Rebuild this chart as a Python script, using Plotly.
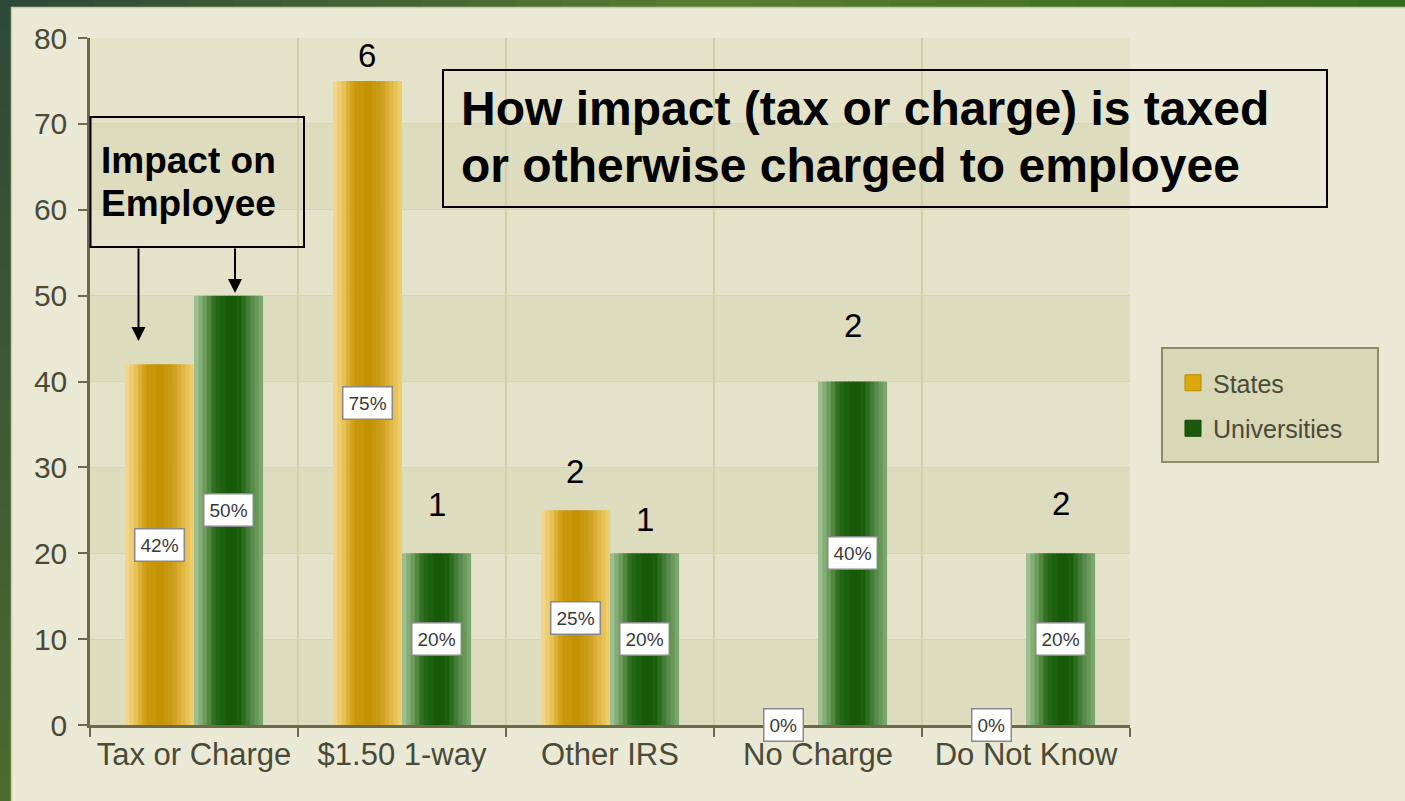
import plotly.graph_objects as go

# ---------------- data ----------------
categories = ["Tax or Charge", "$1.50 1-way", "Other IRS", "No Charge", "Do Not Know"]
states = [42, 75, 25, 0, 0]
universities = [50, 20, 20, 40, 20]
state_pct_labels = ["42%", "75%", "25%", "0%", "0%"]
univ_pct_labels = ["50%", "20%", "20%", "40%", "20%"]
state_counts = ["", "6", "2", "", ""]
univ_counts = ["", "1", "1", "2", "2"]
y_tick_values = [0, 10, 20, 30, 40, 50, 60, 70, 80]

# ---------------- layout constants ----------------
W, H = 1405, 801
PL, PR, PT, PB = 90, 1130, 38, 725  # plot area in pixels
FONT = "Arial, Liberation Sans, sans-serif"
PAPER = "#EAE9D6"
BAND_DARK = "#DDDCBE"
BAND_LIGHT = "#E4E3CA"
AXIS = "#6B6A4A"
TEXT = "#4A4A38"

BAR_W = 0.332
STATE_OFF = -0.332
UNIV_OFF = 0.0

# offsets of count labels above the bar tops (in y units)
state_count_gap = [0, 3.0, 4.5, 0, 0]
univ_count_gap = [0, 5.7, 3.9, 6.5, 5.8]

state_stops = [(0.0, "#F6DC94"), (0.15, "#E8C45A"), (0.3, "#CC9C10"), (0.5, "#C09000"),
               (0.68, "#CB9C16"), (0.85, "#E2B845"), (1.0, "#F2D272")]
univ_stops = [(0.0, "#A8C89C"), (0.15, "#6E9E60"), (0.3, "#2A6A1A"), (0.5, "#145A08"),
              (0.66, "#1A5E0C"), (0.82, "#4C8640"), (1.0, "#80AE74")]


def hex2rgb(h):
    h = h.lstrip("#")
    return tuple(int(h[i:i + 2], 16) for i in (0, 2, 4))


def interp(stops, t):
    for (t0, c0), (t1, c1) in zip(stops[:-1], stops[1:]):
        if t0 <= t <= t1:
            f = (t - t0) / (t1 - t0) if t1 > t0 else 0
            a, b = hex2rgb(c0), hex2rgb(c1)
            r = [round(a[i] + (b[i] - a[i]) * f) for i in range(3)]
            return "rgb(%d,%d,%d)" % tuple(r)
    return stops[-1][1]


def px_x(px):
    return (px - PL) / (PR - PL)


def px_y(py):
    return (PB - py) / (PB - PT)


fig = go.Figure()

N = 16
for name, vals, off, stops in [
    ("States", states, STATE_OFF, state_stops),
    ("Universities", universities, UNIV_OFF, univ_stops),
]:
    for k in range(N):
        t = (k + 0.5) / N
        sw = BAR_W / N
        fig.add_trace(go.Bar(
            x=categories, y=vals,
            offset=off + k * sw,
            width=sw * (1.15 if k < N - 1 else 1.0),
            marker=dict(color=interp(stops, t), line=dict(width=0)),
            name=name, legendgroup=name, showlegend=False,
            hoverinfo="skip",
        ))

# legend entries (square swatches)
for name, color, edge in [("States", "#DCA80C", "#B88A00"), ("Universities", "#1A5A0A", "#0F4406")]:
    fig.add_trace(go.Scatter(
        x=[None], y=[None], mode="markers", name=name, legendgroup=name,
        marker=dict(symbol="square", size=16, color=color, line=dict(color=edge, width=1)),
    ))

shapes = []
# figure border strips (gradient approximations)
top_stops = [(0.0, "#2C4838"), (0.5, "#5A7C32"), (1.0, "#336A20")]
nseg = 30
for i in range(nseg):
    x0 = W * i / nseg
    x1 = W * (i + 1) / nseg + 1
    shapes.append(dict(type="rect", xref="paper", yref="paper",
                       x0=px_x(x0), x1=px_x(x1), y0=px_y(7), y1=px_y(0) + 0.01,
                       fillcolor=interp(top_stops, (i + 0.5) / nseg), line=dict(width=0), layer="below"))
left_stops = [(0.0, "#2C4838"), (1.0, "#4B6B2F")]
for i in range(nseg):
    y0 = H * i / nseg
    y1 = H * (i + 1) / nseg + 1
    shapes.append(dict(type="rect", xref="paper", yref="paper",
                       x0=px_x(0) - 0.01, x1=px_x(11), y0=px_y(y1), y1=px_y(y0),
                       fillcolor=interp(left_stops, (i + 0.5) / nseg), line=dict(width=0), layer="below"))
shapes.append(dict(type="line", xref="paper", yref="paper", x0=px_x(11), x1=px_x(W),
                   y0=px_y(7.5), y1=px_y(7.5), line=dict(color="#C9CF9C", width=1.5), layer="below"))
shapes.append(dict(type="line", xref="paper", yref="paper", x0=px_x(11.5), x1=px_x(11.5),
                   y0=px_y(H), y1=px_y(7), line=dict(color="#C9CF9C", width=1.5), layer="below"))

# alternating horizontal bands
for i in range(len(y_tick_values) - 1):
    shapes.append(dict(type="rect", xref="paper", yref="y", x0=0, x1=1,
                       y0=y_tick_values[i], y1=y_tick_values[i + 1],
                       fillcolor=BAND_DARK if i % 2 == 0 else BAND_LIGHT,
                       line=dict(width=0), layer="below"))

# legend box
shapes.append(dict(type="rect", xref="paper", yref="paper",
                   x0=px_x(1162), x1=px_x(1378), y0=px_y(462), y1=px_y(348),
                   fillcolor="#D8D7B6", line=dict(color="#8C8A68", width=2), layer="below"))

# text boxes
shapes.append(dict(type="rect", xref="paper", yref="paper",
                   x0=px_x(443), x1=px_x(1327), y0=px_y(207), y1=px_y(70),
                   line=dict(color="black", width=2), fillcolor="rgba(0,0,0,0)", layer="above"))
shapes.append(dict(type="rect", xref="paper", yref="paper",
                   x0=px_x(90.5), x1=px_x(304), y0=px_y(247), y1=px_y(117),
                   line=dict(color="black", width=2), fillcolor="rgba(0,0,0,0)", layer="above"))

annotations = []
# percent labels (inside bars, white boxes)
for i, cat in enumerate(categories):
    for vals, labs, off in [(states, state_pct_labels, STATE_OFF), (universities, univ_pct_labels, UNIV_OFF)]:
        annotations.append(dict(
            x=i + off + BAR_W / 2, y=vals[i] / 2, xref="x", yref="y",
            text=labs[i], showarrow=False,
            font=dict(family=FONT, size=19, color="#3A3A3A"),
            bgcolor="white", bordercolor="#8A8A8A", borderwidth=1.5, borderpad=5,
        ))
# count labels above bars
for i, cat in enumerate(categories):
    for vals, counts, gaps, off in [(states, state_counts, state_count_gap, STATE_OFF),
                                    (universities, univ_counts, univ_count_gap, UNIV_OFF)]:
        if counts[i]:
            annotations.append(dict(
                x=i + off + BAR_W / 2, y=vals[i] + gaps[i], xref="x", yref="y",
                text=counts[i], showarrow=False, yanchor="middle",
                font=dict(family=FONT, size=33, color="black"),
            ))

# title box text
annotations.append(dict(x=px_x(459), y=px_y(108.5), xref="paper", yref="paper",
                        text="<b>How impact (tax or charge) is taxed</b>", showarrow=False,
                        xanchor="left", yanchor="middle",
                        font=dict(family=FONT, size=48, color="black")))
annotations.append(dict(x=px_x(459), y=px_y(165), xref="paper", yref="paper",
                        text="<b>or otherwise charged to employee</b>", showarrow=False,
                        xanchor="left", yanchor="middle",
                        font=dict(family=FONT, size=48, color="black")))
annotations.append(dict(x=px_x(99), y=px_y(160), xref="paper", yref="paper",
                        text="<b>Impact on</b>", showarrow=False,
                        xanchor="left", yanchor="middle",
                        font=dict(family=FONT, size=37, color="black")))
annotations.append(dict(x=px_x(99), y=px_y(203), xref="paper", yref="paper",
                        text="<b>Employee</b>", showarrow=False,
                        xanchor="left", yanchor="middle",
                        font=dict(family=FONT, size=37, color="black")))
# arrows
for tipx, tipy in [(138.5, 341), (235, 293)]:
    annotations.append(dict(x=px_x(tipx), y=px_y(tipy), xref="paper", yref="paper",
                            text="", showarrow=True, ax=0, ay=-(tipy - 247),
                            arrowhead=2, arrowsize=1.4, arrowwidth=2, arrowcolor="black"))

fig.update_layout(
    width=W, height=H,
    margin=dict(l=PL, r=W - PR, t=PT, b=H - PB),
    paper_bgcolor=PAPER, plot_bgcolor="rgba(0,0,0,0)",
    barmode="overlay",
    shapes=shapes, annotations=annotations,
    font=dict(family=FONT, color=TEXT),
    legend=dict(x=px_x(1173), y=px_y(360), xanchor="left", yanchor="top",
                bgcolor="rgba(0,0,0,0)", borderwidth=0,
                font=dict(family=FONT, size=25, color=TEXT),
                tracegroupgap=10, itemwidth=30, itemsizing="trace"),
    xaxis=dict(range=[-0.5, 4.5], showline=True, linecolor=AXIS, linewidth=2.5,
               ticks="outside", tickson="boundaries", ticklen=9, tickwidth=2, tickcolor=AXIS,
               showgrid=True, gridcolor="#D0CFA8", gridwidth=1.5,
               tickfont=dict(family=FONT, size=31, color=TEXT), fixedrange=True),
    yaxis=dict(range=[0, 80], tickvals=y_tick_values, showline=True, linecolor=AXIS, linewidth=2.5,
               ticks="outside", ticklen=9, tickwidth=2, tickcolor=AXIS,
               showgrid=True, gridcolor="#D6D5B2", gridwidth=1, zeroline=False,
               ticklabelstandoff=5,
               tickfont=dict(family=FONT, size=30, color=TEXT), fixedrange=True),
    showlegend=True,
)

fig.write_html("out.html", config={"displayModeBar": False},
               post_script="document.body.style.margin='0';document.body.style.overflow='hidden';")
